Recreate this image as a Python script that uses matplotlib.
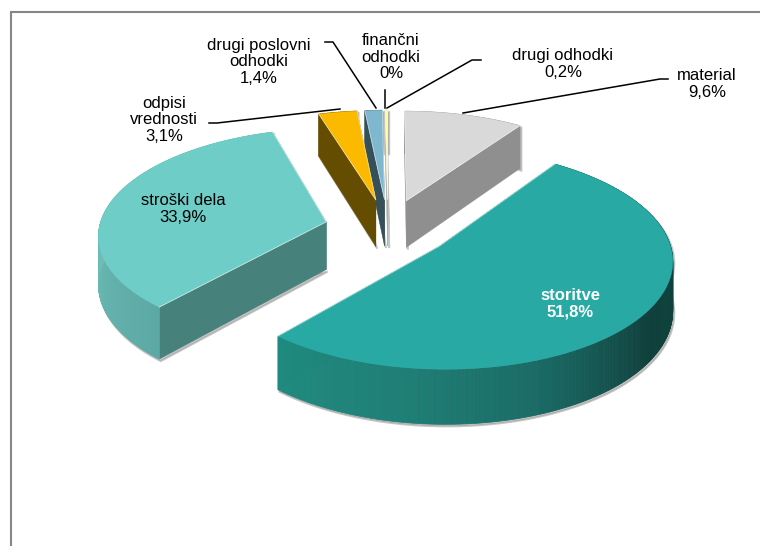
import numpy as np
import matplotlib
matplotlib.use("Agg")
import matplotlib.pyplot as plt
from matplotlib.collections import PolyCollection
from matplotlib.colors import to_rgb

# ---------- data ----------
categories = ["material", "storitve", "stroški dela", "odpisi\nvrednosti",
              "drugi poslovni\nodhodki", "finančni\nodhodki", "drugi odhodki"]
values = [9.6, 51.8, 33.9, 3.1, 1.4, 0.0, 0.2]
value_labels = ["9,6%", "51,8%", "33,9%", "3,1%", "1,4%", "0%", "0,2%"]
top_colors = ["#d9d9d9", "#29a9a3", "#6ecdc7", "#fbb900", "#7fb7cf", "#8fd0d0", "#ffff99"]
wall_colors = ["#8f8f8f", "#2a8a80", "#46817b", "#644c00", "#36505a", "#708f8f", "#b0b0a0"]

# ---------- projection ----------
SX, SY, RX, RY, K, EXPL, DEPTH = 388.0, 228.0, 227.0, 105.0, 0.11, 0.28, 48.0

plt.rcParams["font.family"] = ["Liberation Sans", "DejaVu Sans"]
fig = plt.figure(figsize=(7.6, 5.46), dpi=100)
ax = fig.add_axes([0, 0, 1, 1])
ax.set_xlim(0, 760)
ax.set_ylim(546, 0)
ax.axis("off")


def proj(X, Y, low=False):
    p = 1.0 / (1.0 + K * Y)
    return SX + RX * X * p, SY + (-RY * Y + (DEPTH if low else 0.0)) * p


def rim(th, ox, oy, low=False):
    return proj(ox + np.sin(th), oy + np.cos(th), low)


def wall_shade(i, th):
    """outer wall colour as a function of the rim angle"""
    d = np.degrees(th)
    if i == 1:  # storitve: dark towards the right, lighter to the left
        stops_a = [35, 90, 125, 160, 190, 221]
        stops_c = ["#1b5a56", "#0e423e", "#0f403c", "#1a6b66", "#1e7f76", "#1f8a7f"]
        rgb = [to_rgb(c) for c in stops_c]
        return tuple(np.interp(d, stops_a, [c[k] for c in rgb]) for k in range(3))
    if i == 2:
        rgb0, rgb1 = to_rgb("#6fbcb6"), to_rgb("#5aa9a4")
        t = np.clip((d - 221) / 50.0, 0, 1)
        rgb = np.array(rgb1) * (1 - t) + np.array(rgb0) * t
        return tuple(rgb)
    return to_rgb(wall_colors[i])


def draw_slice(i, a0, a1):
    mid = 0.5 * (a0 + a1)
    ox, oy = EXPL * np.sin(mid), EXPL * np.cos(mid)
    th = np.linspace(a0, a1, max(int(np.degrees(a1 - a0) * 2), 4))
    tx, ty = rim(th, ox, oy)
    bx, by = rim(th, ox, oy, True)
    ax_, ay_ = proj(ox, oy)
    cx_, cy_ = proj(ox, oy, True)
    z = 2 + i_order[i] * 10

    # soft shadow along the lower silhouette
    sil_x = np.r_[tx, bx[::-1]]
    sil_y = np.r_[ty, by[::-1]]
    ax.fill(np.r_[sil_x, cx_] + 1.5, np.r_[sil_y, cy_] + 2, color="#9a9a9a", lw=1.5,
            alpha=0.55, zorder=z)

    # cut faces
    for e in (0, -1):
        q = [(ax_, ay_), (tx[e], ty[e]), (bx[e], by[e]), (cx_, cy_)]
        ax.fill(*zip(*q), color=wall_colors[i], lw=0.3, zorder=z + 1)
    if i == 1:
        pass

    # outer wall, coloured angle by angle
    polys, cols = [], []
    for j in range(len(th) - 1):
        polys.append([(tx[j], ty[j]), (tx[j + 1], ty[j + 1]), (bx[j + 1], by[j + 1]), (bx[j], by[j])])
        cols.append(wall_shade(i, 0.5 * (th[j] + th[j + 1])))
    ax.add_collection(PolyCollection(polys, facecolors=cols, edgecolors=cols, linewidths=0.5, zorder=z + 2))

    # top face
    ax.fill(np.r_[ax_, tx], np.r_[ay_, ty], color=top_colors[i], lw=0.3, zorder=z + 3)
    # pale highlight on the top edges
    ax.plot(np.r_[tx[-1], ax_, tx[0]], np.r_[ty[-1], ay_, ty[0]], color="white", lw=0.6,
            alpha=0.6, zorder=z + 4)


# ---------- slices, back to front ----------
fr = np.array(values) / np.sum(values)
edges = np.r_[0, np.cumsum(fr)] * 2 * np.pi
paint = [0, 6, 5, 4, 3, 2, 1]
i_order = {s: n for n, s in enumerate(paint)}
for s in paint:
    if values[s] > 0:
        draw_slice(s, edges[s], edges[s + 1])

# ---------- frame ----------
ax.plot([10.5, 10.5, 760], [546, 12, 12], color="#868686", lw=1.5, zorder=1, solid_joinstyle="miter")

# ---------- labels ----------
FS = 12
label_pos = {0: (707, 84), 1: (570, 304), 2: (183, 209), 3: (164, 120),
             4: (259, 62), 5: (391, 57), 6: (563, 64)}
for i, (x, y) in label_pos.items():
    col = "white" if i == 1 else "black"
    weight = "bold" if i == 1 else "normal"
    ax.text(x, y, categories[i] + "\n" + value_labels[i], ha="center", va="center", fontsize=FS,
            color=col, fontweight=weight, linespacing=1.12, zorder=200)

# ---------- leader lines ----------
leaders = [
    [(668, 79), (660, 79), (463, 113)],
    [(209, 123), (217, 123), (340, 109)],
    [(325, 42), (333, 42), (376, 108)],
    [(385, 90), (385, 108)],
    [(481, 60), (472, 60), (387, 108)],
]
for pts in leaders:
    ax.plot(*zip(*pts), color="black", lw=1.1, zorder=210)

fig.savefig("out.png", dpi=100)
